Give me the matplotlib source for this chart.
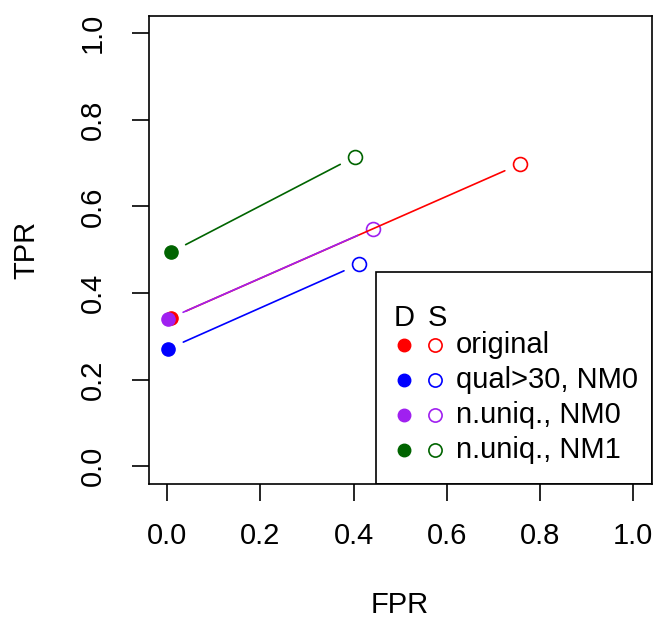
import matplotlib
matplotlib.use('Agg')
import matplotlib.pyplot as plt
from matplotlib.patches import Rectangle

plt.rcParams['font.family'] = ['Liberation Sans', 'DejaVu Sans']

# ROC points: D = filled, S = open
labels = ['original', 'qual>30, NM0', 'n.uniq., NM0', 'n.uniq., NM1']
colors = ['#FF0000', '#0000FF', '#A020F0', '#006400']
fpr_d = [0.008, 0.002, 0.0015, 0.008]
tpr_d = [0.343, 0.271, 0.340, 0.494]
fpr_s = [0.757, 0.412, 0.442, 0.403]
tpr_s = [0.698, 0.467, 0.549, 0.715]

fs = 21
fig = plt.figure(figsize=(6.57, 6.19), dpi=100)
ax = fig.add_axes([148.5 / 657, 1 - 483.5 / 619, 503.5 / 657, 467.5 / 619])

for i in range(len(labels)):
    # segment with gaps around the points (like R type="b")
    ax.annotate('', xy=(fpr_s[i], tpr_s[i]), xytext=(fpr_d[i], tpr_d[i]),
                arrowprops=dict(arrowstyle='-', color=colors[i], lw=1.2,
                                shrinkA=12, shrinkB=12))
    ax.plot(fpr_d[i], tpr_d[i], 'o', color=colors[i], ms=9.5, mec=colors[i])
    ax.plot(fpr_s[i], tpr_s[i], 'o', mfc='none', mec=colors[i], ms=10, mew=1.2)

ax.set_xlim(-0.04, 1.04)
ax.set_ylim(-0.04, 1.04)
ticks = [0.0, 0.2, 0.4, 0.6, 0.8, 1.0]
ax.set_xticks(ticks)
ax.set_yticks(ticks)
ax.set_xticklabels(['%.1f' % t for t in ticks])
ax.set_yticklabels(['%.1f' % t for t in ticks], rotation=90, va='center')
ax.tick_params(axis='both', length=12, width=1.2, labelsize=fs)
ax.tick_params(axis='x', pad=16)
ax.tick_params(axis='y', pad=18)
for s in ax.spines.values():
    s.set_linewidth(1.2)

fig.text(400 / 657, 1 - 605 / 619, 'FPR', ha='center', va='center', fontsize=fs)
fig.text(26 / 657, 1 - 250 / 619, 'TPR', ha='center', va='center',
         rotation=90, fontsize=fs)

# legend box in the lower-right corner
ax.add_patch(Rectangle((0.452, 0.0), 0.548, 0.452, transform=ax.transAxes,
                       fill=False, ec='black', lw=1.2, zorder=5))
x_d, x_s, x_t = 0.5075, 0.570, 0.611
ax.text(x_d, 0.354, 'D', transform=ax.transAxes, ha='center', va='center', fontsize=fs)
ax.text(0.5735, 0.354, 'S', transform=ax.transAxes, ha='center', va='center', fontsize=fs)
rows = [0.296, 0.221, 0.1465, 0.072]
for i, lab in enumerate(labels):
    ax.plot(x_d, rows[i], 'o', color=colors[i], ms=9, transform=ax.transAxes, clip_on=False)
    ax.plot(x_s, rows[i], 'o', mfc='none', mec=colors[i], ms=9.5, mew=1.2,
            transform=ax.transAxes, clip_on=False)
    ax.text(x_t, rows[i], lab, transform=ax.transAxes, ha='left', va='center', fontsize=fs)

fig.savefig('out.png', dpi=100)
